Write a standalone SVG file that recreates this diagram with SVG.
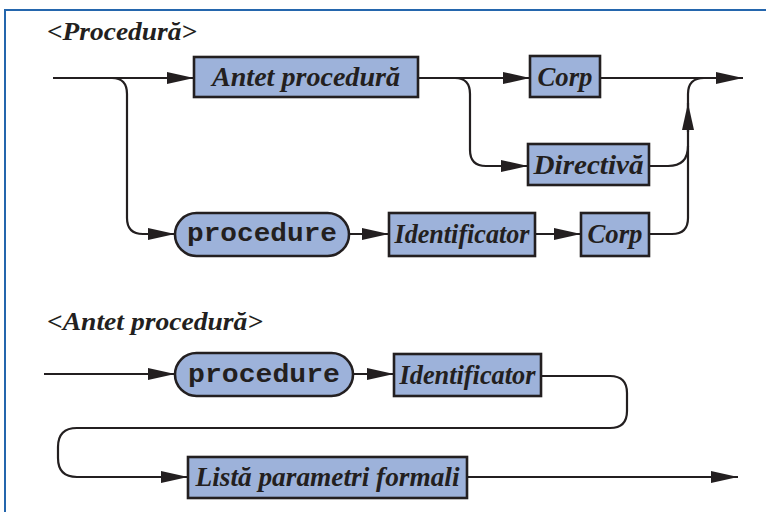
<svg xmlns="http://www.w3.org/2000/svg" width="766" height="512" viewBox="0 0 766 512">
  <style>
    .frame { fill: none; stroke: #2466ad; stroke-width: 2; }
    .box { fill: #9db2da; stroke: #231f20; stroke-width: 2.6; }
    .line { fill: none; stroke: #231f20; stroke-width: 2.2; }
    .arrow { marker-end: url(#head); }
    .lbl { font-family: "Liberation Serif", "Times New Roman", serif; font-style: italic; font-weight: bold; font-size: 27px; fill: #231f20; text-anchor: middle; }
    .kw { font-family: "Liberation Mono", "Courier New", monospace; font-weight: bold; font-size: 26px; fill: #231f20; text-anchor: middle; }
    .title { font-family: "Liberation Serif", "Times New Roman", serif; font-style: italic; font-weight: bold; font-size: 26px; fill: #231f20; }
  </style>
  <defs>
    <marker id="head" markerUnits="userSpaceOnUse" markerWidth="28" markerHeight="12" refX="27" refY="6" orient="auto" viewBox="0 0 28 12">
      <path d="M0,0 L27,6 L0,12 Z" fill="#231f20"/>
    </marker>
  </defs>

  <rect width="766" height="512" fill="#ffffff"/>
  <path class="frame" d="M5,512 V10 H766"/>

  <!-- Diagram 1: Procedura -->
  <text class="title" x="47" y="40" textLength="150" lengthAdjust="spacingAndGlyphs">&lt;Procedură&gt;</text>

  <g id="connectors-procedura">
    <path class="line arrow" d="M53,78 H194"/>
    <path class="line arrow" d="M112,78 Q127,78 127,94 V218 Q127,234 143,234 H175"/>
    <path class="line arrow" d="M418,78 H530"/>
    <path class="line arrow" d="M455,78 Q470,78 470,94 V150 Q470,166 486,166 H528"/>
    <path class="line arrow" d="M600,78 H743"/>
    <path class="line" d="M649,234 H672 Q688,234 688,218 V94 Q688,78 704,78"/>
    <path class="line" d="M649,166 H668 Q688,166 688,146"/>
    <path class="line arrow" d="M688,132 V103"/>
    <path class="line arrow" d="M349,234 H389"/>
    <path class="line arrow" d="M535,234 H581"/>
  </g>

  <g id="antet1">
    <rect class="box" x="194" y="57" width="224" height="40"/>
    <text class="lbl" x="306" y="86" textLength="188" lengthAdjust="spacingAndGlyphs">Antet procedură</text>
  </g>
  <g id="corp1">
    <rect class="box" x="530" y="56" width="70" height="41"/>
    <text class="lbl" x="565" y="86" textLength="55" lengthAdjust="spacingAndGlyphs">Corp</text>
  </g>
  <g id="directiva">
    <rect class="box" x="528" y="144" width="121" height="41"/>
    <text class="lbl" x="588.5" y="174" textLength="110" lengthAdjust="spacingAndGlyphs">Directivă</text>
  </g>
  <g id="procedure1">
    <rect class="box" x="175" y="213" width="174" height="43" rx="21.5" ry="21.5"/>
    <text class="kw" x="262" y="241" textLength="150" lengthAdjust="spacingAndGlyphs">procedure</text>
  </g>
  <g id="identificator1">
    <rect class="box" x="389" y="213" width="146" height="43"/>
    <text class="lbl" x="462" y="243" textLength="135" lengthAdjust="spacingAndGlyphs">Identificator</text>
  </g>
  <g id="corp2">
    <rect class="box" x="581" y="213" width="68" height="43"/>
    <text class="lbl" x="615" y="243" textLength="55" lengthAdjust="spacingAndGlyphs">Corp</text>
  </g>

  <!-- Diagram 2: Antet procedura -->
  <text class="title" x="47" y="330" textLength="216" lengthAdjust="spacingAndGlyphs">&lt;Antet procedură&gt;</text>

  <g id="connectors-antet">
    <path class="line arrow" d="M44,374 H175"/>
    <path class="line arrow" d="M353,374 H394"/>
    <path class="line arrow" d="M541,376 H610 Q627,376 627,393 V411 Q627,428 610,428 H77 Q58,428 58,447 V458 Q58,477 77,477 H188"/>
    <path class="line arrow" d="M467,477 H738"/>
  </g>

  <g id="procedure2">
    <rect class="box" x="175" y="353" width="178" height="43" rx="21.5" ry="21.5"/>
    <text class="kw" x="264" y="382" textLength="152" lengthAdjust="spacingAndGlyphs">procedure</text>
  </g>
  <g id="identificator2">
    <rect class="box" x="394" y="354" width="147" height="42"/>
    <text class="lbl" x="467.5" y="384" textLength="136" lengthAdjust="spacingAndGlyphs">Identificator</text>
  </g>
  <g id="lista">
    <rect class="box" x="188" y="457" width="279" height="41"/>
    <text class="lbl" x="327.5" y="486" textLength="264" lengthAdjust="spacingAndGlyphs">Listă parametri formali</text>
  </g>
</svg>
